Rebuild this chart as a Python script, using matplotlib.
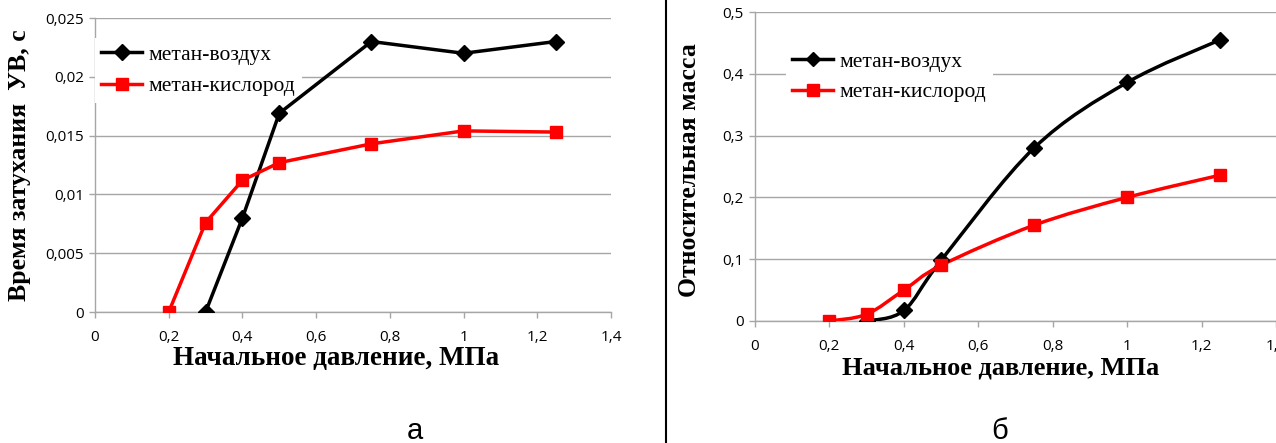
import numpy as np
import matplotlib
matplotlib.use('Agg')
import matplotlib.pyplot as plt
from matplotlib.path import Path
from matplotlib.patches import PathPatch
from matplotlib.lines import Line2D
from matplotlib.ticker import FuncFormatter

# data
p_air = [0.3, 0.4, 0.5, 0.75, 1.0, 1.25]
p_oxy = [0.2, 0.3, 0.4, 0.5, 0.75, 1.0, 1.25]

t_air = [0.0, 0.008, 0.0169, 0.023, 0.022, 0.023]
t_oxy = [0.0, 0.0076, 0.0112, 0.0127, 0.0143, 0.0154, 0.0153]

m_air = [0.0, 0.017, 0.098, 0.28, 0.386, 0.455]
m_oxy = [0.0, 0.011, 0.05, 0.09, 0.155, 0.2, 0.236]

lbl_air = 'метан-воздух'
lbl_oxy = 'метан-кислород'

GRID = '#a6a6a6'
TICKFONT = 'Open Sans'
SERIF = 'Liberation Serif'


def comma(v, pos):
  s = ('%.3f' % v).rstrip('0').rstrip('.')
  return s.replace('.', ',')


def smooth_path(x, y):
  # excel-like smoothed line: catmull-rom bezier through the points
  pts = np.column_stack([x, y])
  n = len(pts)
  verts = [pts[0]]
  codes = [Path.MOVETO]
  for i in range(n - 1):
    p0 = pts[i - 1] if i > 0 else pts[i]
    p1 = pts[i]
    p2 = pts[i + 1]
    p3 = pts[i + 2] if i + 2 < n else pts[i + 1]
    c1 = p1 + (p2 - p0) / 6.0
    c2 = p2 - (p3 - p1) / 6.0
    verts += [c1, c2, p2]
    codes += [Path.CURVE4] * 3
  return Path(verts, codes)


def style_axes(ax, ymax, ystep):
  ax.set_xlim(0, 1.4)
  ax.set_ylim(0, ymax)
  ax.set_xticks(np.arange(0, 1.41, 0.2))
  ax.set_yticks(np.arange(0, ymax + ystep / 2, ystep))
  ax.xaxis.set_major_formatter(FuncFormatter(comma))
  ax.yaxis.set_major_formatter(FuncFormatter(comma))
  ax.grid(axis='y', color=GRID, linewidth=1.0)
  ax.set_axisbelow(True)
  for s in ['top', 'right']:
    ax.spines[s].set_visible(False)
  for s in ['left', 'bottom']:
    ax.spines[s].set_color(GRID)
    ax.spines[s].set_linewidth(1.0)
  ax.tick_params(axis='both', color=GRID, length=4, width=1, direction='out',
                 labelsize=11, labelcolor='black')
  ax.tick_params(axis='x', pad=9)
  ax.tick_params(axis='y', pad=4)
  for lab in ax.get_xticklabels() + ax.get_yticklabels():
    lab.set_fontfamily(TICKFONT)


def add_legend(ax, anchor, spacing, ms_d, ms_s):
  handles = [
    Line2D([], [], color='black', lw=2.5, marker='D', ms=ms_d),
    Line2D([], [], color='red', lw=2.5, marker='s', ms=ms_s),
  ]
  leg = ax.legend(handles, [lbl_air, lbl_oxy], loc='upper left',
                  bbox_to_anchor=anchor, bbox_transform=ax.figure.transFigure,
                  frameon=True, fancybox=False, framealpha=1.0,
                  facecolor='white', edgecolor='none',
                  prop={'family': SERIF, 'size': 15.5},
                  handlelength=1.9, handletextpad=0.3,
                  labelspacing=spacing, borderpad=0.3, borderaxespad=0)
  # lines of the chart pass over the legend box
  leg.set_zorder(2.5)
  return leg


fig = plt.figure(figsize=(12.76, 4.43), dpi=100)
W, H = 1276.0, 443.0

# ---- panel a
ax1 = fig.add_axes([95 / W, 1 - 312 / H, (611 - 95) / W, (312 - 18) / H])
ax1.plot(p_air, t_air, color='black', lw=2.5, marker='D', ms=8, zorder=3)
ax1.plot(p_oxy, t_oxy, color='red', lw=2.5, marker='s', ms=9, zorder=3)
style_axes(ax1, 0.025, 0.005)
add_legend(ax1, (95 / W, 1 - 38 / H), 0.55, 8, 9)
fig.text(20 / W, 1 - 165 / H, 'Время затухания  УВ, с', rotation=90,
         ha='center', va='center', family=SERIF, weight='bold', fontsize=18.5)
fig.text(336 / W, 1 - 358 / H, 'Начальное давление, МПа', ha='center',
         va='center', family=SERIF, weight='bold', fontsize=19.5)
fig.text(415 / W, 1 - 431 / H, 'а', ha='center', va='center',
         family='Liberation Sans', fontsize=21)

# ---- panel b
ax2 = fig.add_axes([755 / W, 1 - 321 / H, (1276 - 755) / W, (321 - 12) / H])
ax2.add_patch(PathPatch(smooth_path(p_air, m_air), fill=False,
                        edgecolor='black', lw=2.5, zorder=3))
ax2.add_patch(PathPatch(smooth_path(p_oxy, m_oxy), fill=False,
                        edgecolor='red', lw=2.5, zorder=3))
ax2.plot(p_air, m_air, linestyle='none', color='black', marker='D', ms=8,
         zorder=4)
ax2.plot(p_oxy, m_oxy, linestyle='none', color='red', marker='s', ms=9,
         zorder=4)
style_axes(ax2, 0.5, 0.1)
add_legend(ax2, (786 / W, 1 - 45 / H), 0.5, 7, 8)
fig.text(690 / W, 1 - 170 / H, 'Относительная масса', rotation=90,
         ha='center', va='center', family=SERIF, weight='bold', fontsize=18.5)
fig.text(1001 / W, 1 - 368 / H, 'Начальное давление, МПа', ha='center',
         va='center', family=SERIF, weight='bold', fontsize=19)
fig.text(1000 / W, 1 - 431 / H, 'б', ha='center', va='center',
         family='Liberation Sans', fontsize=21)

# divider between panels
fig.add_artist(Line2D([666 / W, 666 / W], [0, 1], color='black', lw=1.5,
                      transform=fig.transFigure))

fig.savefig('out.png', dpi=100)
